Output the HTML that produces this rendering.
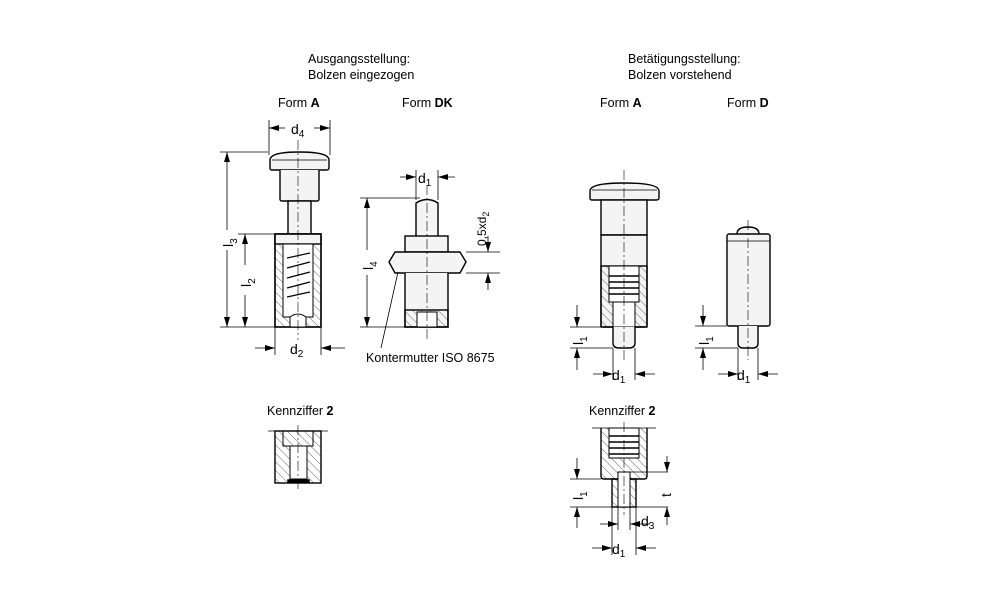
<!DOCTYPE html>
<html><head><meta charset="utf-8"><style>
html,body{margin:0;padding:0;background:#fff;}
svg{display:block;}
text{font-family:"Liberation Sans",Arial,sans-serif;fill:#000;}
</style></head><body>
<svg width="1000" height="611" viewBox="0 0 1000 611" xmlns="http://www.w3.org/2000/svg">
<defs>
<marker id="ar" markerWidth="10" markerHeight="6" refX="10" refY="3" orient="auto" markerUnits="userSpaceOnUse"><path d="M0,0 L10,3 L0,6 z" fill="#000"/></marker>
<pattern id="h" width="6" height="6" patternUnits="userSpaceOnUse" patternTransform="rotate(-45)"><line x1="0" y1="0" x2="0" y2="6" stroke="#000" stroke-width="0.6"/></pattern>
</defs>
<g font-size="12.5">
<text x="308" y="63">Ausgangsstellung:</text>
<text x="308" y="79">Bolzen eingezogen</text>
<text x="628" y="63">Betätigungsstellung:</text>
<text x="628" y="79">Bolzen vorstehend</text>
<text x="278" y="107">Form <tspan font-weight="bold">A</tspan></text>
<text x="402" y="107">Form <tspan font-weight="bold">DK</tspan></text>
<text x="600" y="107">Form <tspan font-weight="bold">A</tspan></text>
<text x="727" y="107">Form <tspan font-weight="bold">D</tspan></text>
<text x="267" y="415">Kennziffer <tspan font-weight="bold">2</tspan></text>
<text x="589" y="415">Kennziffer <tspan font-weight="bold">2</tspan></text>
<text x="366" y="362">Kontermutter ISO 8675</text>
</g>
<g stroke="#000" fill="none" stroke-width="1.4">
<!-- Left Form A -->
<path d="M270,160 Q270,152 299,152 Q329,152 329,160 L329,168 Q329,170 326,170 L272,170 Q270,170 270,168 Z" fill="#f4f4f4"/>
<line x1="272" y1="160" x2="327" y2="160" stroke-width="0.7"/>
<path d="M280,170 L280,199 Q280,201 282,201 L317,201 Q319,201 319,199 L319,170" fill="#f4f4f4"/>
<rect x="288" y="201" width="23" height="33" fill="#f4f4f4"/>
<rect x="275" y="234" width="46" height="93" fill="url(#h)"/>
<rect x="275" y="234" width="46" height="10" fill="#f4f4f4"/>
<rect x="275" y="234" width="46" height="93"/>
<rect x="283" y="244" width="30" height="73" fill="#fff" stroke-width="1"/>
<path d="M287,258 L310,253 M287,268 L310,262 M287,278 L310,272 M287,288 L310,282 M287,297 L310,292" stroke-width="1.2"/>
<path d="M290,317 Q298,311 306,317 L306,327 L290,327 Z" fill="#fff" stroke-width="1"/>
<!-- DK -->
<path d="M416,236 L416,203 Q427,196 438,203 L438,236" fill="#f4f4f4"/>
<rect x="405" y="236" width="43" height="16" fill="#f4f4f4"/>
<path d="M395,252 L460,252 L466,262 L460,273 L395,273 L389,262 Z" fill="#f4f4f4"/>
<path d="M405,273 L405,327 L448,327 L448,273" fill="#f4f4f4"/>
<rect x="405" y="310" width="43" height="17" fill="url(#h)"/>
<rect x="417" y="312" width="20" height="15" fill="#fff" stroke-width="1"/>
<!-- right Form A -->
<path d="M590,191 Q590,183 624,183 Q659,183 659,191 L659,198 Q659,200 656,200 L592,200 Q590,200 590,198 Z" fill="#f4f4f4"/>
<line x1="592" y1="190" x2="657" y2="190" stroke-width="0.7"/>
<rect x="601" y="200" width="46" height="35" fill="#f4f4f4"/>
<path d="M601,235 L601,325 Q601,327 603,327 L645,327 Q647,327 647,325 L647,235 Z" fill="#f4f4f4"/>
<rect x="601" y="266" width="46" height="61" fill="url(#h)"/>
<rect x="609" y="266" width="30" height="36" fill="#fff" stroke-width="1"/>
<path d="M609,276 L639,276 M609,282 L639,282 M609,288 L639,288 M609,294 L639,294" stroke-width="1.5"/>
<rect x="613" y="302" width="22" height="25" fill="#fff" stroke-width="1"/>
<path d="M613,327 L613,343 Q613,348 619,348 L629,348 Q635,348 635,343 L635,327" fill="#f4f4f4"/>
<!-- Form D -->
<path d="M737,234 Q737,227 748,227 Q759,227 759,234" fill="#f4f4f4"/>
<rect x="727" y="234" width="43" height="92" rx="2" fill="#f4f4f4"/>
<line x1="727" y1="241" x2="770" y2="241" stroke-width="0.8"/>
<path d="M738,326 L738,343 Q738,348 743,348 L753,348 Q758,348 758,343 L758,326" fill="#f4f4f4"/>
<!-- Kennziffer left -->
<rect x="275" y="431" width="46" height="52" fill="url(#h)"/>
<rect x="290" y="446" width="17" height="33" fill="#fff" stroke-width="1"/>
<path d="M283,431 L283,446 L313,446 L313,431" stroke-width="1"/>
<rect x="288" y="480" width="21" height="2" fill="#000"/>
<!-- Kennziffer right -->
<path d="M601,428 L601,476 Q601,479 604,479 L644,479 Q647,479 647,476 L647,428" fill="url(#h)"/>
<rect x="609" y="428" width="30" height="30" fill="#fff" stroke-width="1"/>
<path d="M609,436 L639,436 M609,442 L639,442 M609,448 L639,448 M609,454 L639,454" stroke-width="1.5"/>
<rect x="612" y="479" width="24" height="28" fill="url(#h)"/>
<rect x="618" y="472" width="12" height="35" fill="#fff" stroke-width="1"/>
</g>
<!-- centerlines -->
<g stroke="#000" stroke-width="0.6" stroke-dasharray="10,3,2,3">
<line x1="298" y1="140" x2="298" y2="340"/><line x1="427" y1="185" x2="427" y2="340"/>
<line x1="624" y1="170" x2="624" y2="360"/><line x1="748" y1="220" x2="748" y2="360"/>
<line x1="298" y1="425" x2="298" y2="490"/><line x1="624" y1="422" x2="624" y2="515"/>
</g>
<!-- dimensions -->
<g stroke="#000" stroke-width="0.8" fill="none">
<line x1="269" y1="120" x2="269" y2="155"/><line x1="330" y1="120" x2="330" y2="155"/>
<line x1="285" y1="128" x2="269" y2="128" marker-end="url(#ar)"/><line x1="314" y1="128" x2="330" y2="128" marker-end="url(#ar)"/>
<line x1="220" y1="152" x2="268" y2="152"/><line x1="220" y1="327" x2="275" y2="327"/><line x1="238" y1="234" x2="275" y2="234"/>
<line x1="227" y1="230" x2="227" y2="152" marker-end="url(#ar)"/><line x1="227" y1="250" x2="227" y2="327" marker-end="url(#ar)"/>
<line x1="245" y1="265" x2="245" y2="234" marker-end="url(#ar)"/><line x1="245" y1="295" x2="245" y2="327" marker-end="url(#ar)"/>
<line x1="275" y1="327" x2="275" y2="355"/><line x1="321" y1="327" x2="321" y2="355"/>
<line x1="255" y1="348" x2="275" y2="348" marker-end="url(#ar)"/><line x1="345" y1="348" x2="321" y2="348" marker-end="url(#ar)"/>
<!-- DK -->
<line x1="416" y1="170" x2="416" y2="200"/><line x1="438" y1="170" x2="438" y2="200"/>
<line x1="400" y1="177" x2="416" y2="177" marker-end="url(#ar)"/><line x1="455" y1="177" x2="438" y2="177" marker-end="url(#ar)"/>
<line x1="360" y1="198" x2="420" y2="198"/><line x1="360" y1="327" x2="405" y2="327"/>
<line x1="367" y1="250" x2="367" y2="198" marker-end="url(#ar)"/><line x1="367" y1="275" x2="367" y2="327" marker-end="url(#ar)"/>
<line x1="466" y1="252" x2="500" y2="252"/><line x1="466" y1="273" x2="500" y2="273"/>
<line x1="488" y1="236" x2="488" y2="252" marker-end="url(#ar)"/><line x1="488" y1="290" x2="488" y2="273" marker-end="url(#ar)"/>
<line x1="398" y1="272" x2="381" y2="348"/>
<!-- right A -->
<line x1="570" y1="327" x2="601" y2="327"/><line x1="570" y1="348" x2="613" y2="348"/>
<line x1="577" y1="305" x2="577" y2="327" marker-end="url(#ar)"/><line x1="577" y1="370" x2="577" y2="348" marker-end="url(#ar)"/>
<line x1="613" y1="348" x2="613" y2="380"/><line x1="635" y1="348" x2="635" y2="380"/>
<line x1="593" y1="374" x2="613" y2="374" marker-end="url(#ar)"/><line x1="655" y1="374" x2="635" y2="374" marker-end="url(#ar)"/>
<!-- D -->
<line x1="695" y1="326" x2="727" y2="326"/><line x1="695" y1="348" x2="738" y2="348"/>
<line x1="703" y1="305" x2="703" y2="326" marker-end="url(#ar)"/><line x1="703" y1="370" x2="703" y2="348" marker-end="url(#ar)"/>
<line x1="738" y1="348" x2="738" y2="380"/><line x1="758" y1="348" x2="758" y2="380"/>
<line x1="718" y1="374" x2="738" y2="374" marker-end="url(#ar)"/><line x1="778" y1="374" x2="758" y2="374" marker-end="url(#ar)"/>
<!-- Kennziffer lines -->
<line x1="268" y1="431" x2="328" y2="431"/><line x1="592" y1="428" x2="656" y2="428"/>
<line x1="570" y1="479" x2="601" y2="479"/><line x1="570" y1="507" x2="612" y2="507"/>
<line x1="577" y1="458" x2="577" y2="479" marker-end="url(#ar)"/><line x1="577" y1="528" x2="577" y2="507" marker-end="url(#ar)"/>
<line x1="630" y1="472" x2="668" y2="472"/><line x1="636" y1="507" x2="668" y2="507"/>
<line x1="667" y1="456" x2="667" y2="472" marker-end="url(#ar)"/><line x1="667" y1="525" x2="667" y2="507" marker-end="url(#ar)"/>
<line x1="612" y1="507" x2="612" y2="555"/><line x1="636" y1="507" x2="636" y2="555"/>
<line x1="618" y1="507" x2="618" y2="530"/><line x1="630" y1="507" x2="630" y2="530"/>
<line x1="600" y1="524" x2="618" y2="524" marker-end="url(#ar)"/><line x1="650" y1="524" x2="630" y2="524" marker-end="url(#ar)"/>
<line x1="592" y1="548" x2="612" y2="548" marker-end="url(#ar)"/><line x1="656" y1="548" x2="636" y2="548" marker-end="url(#ar)"/>
</g>
<g font-size="14">
<text x="291" y="134">d<tspan font-size="10" dy="3">4</tspan></text>
<text x="290" y="354">d<tspan font-size="10" dy="3">2</tspan></text>
<text x="418" y="183">d<tspan font-size="10" dy="3">1</tspan></text>
<text x="612" y="380">d<tspan font-size="10" dy="3">1</tspan></text>
<text x="737" y="380">d<tspan font-size="10" dy="3">1</tspan></text>
<text x="612" y="554">d<tspan font-size="10" dy="3">1</tspan></text>
<text x="641" y="526">d<tspan font-size="10" dy="3">3</tspan></text>
<text x="662" y="496" transform="rotate(-90 667 492)">t</text>
<text transform="translate(233,247) rotate(-90)">l<tspan font-size="10" dy="4">3</tspan></text>
<text transform="translate(251,287) rotate(-90)">l<tspan font-size="10" dy="4">2</tspan></text>
<text transform="translate(373,270) rotate(-90)">l<tspan font-size="10" dy="4">4</tspan></text>
<text transform="translate(583,345) rotate(-90)">l<tspan font-size="10" dy="4">1</tspan></text>
<text transform="translate(709,345) rotate(-90)">l<tspan font-size="10" dy="4">1</tspan></text>
<text transform="translate(583,500) rotate(-90)">l<tspan font-size="10" dy="4">1</tspan></text>
<text font-size="12" transform="translate(486,246) rotate(-90)">0,5xd<tspan font-size="9" dy="3">2</tspan></text>
</g>
</svg>
</body></html>
